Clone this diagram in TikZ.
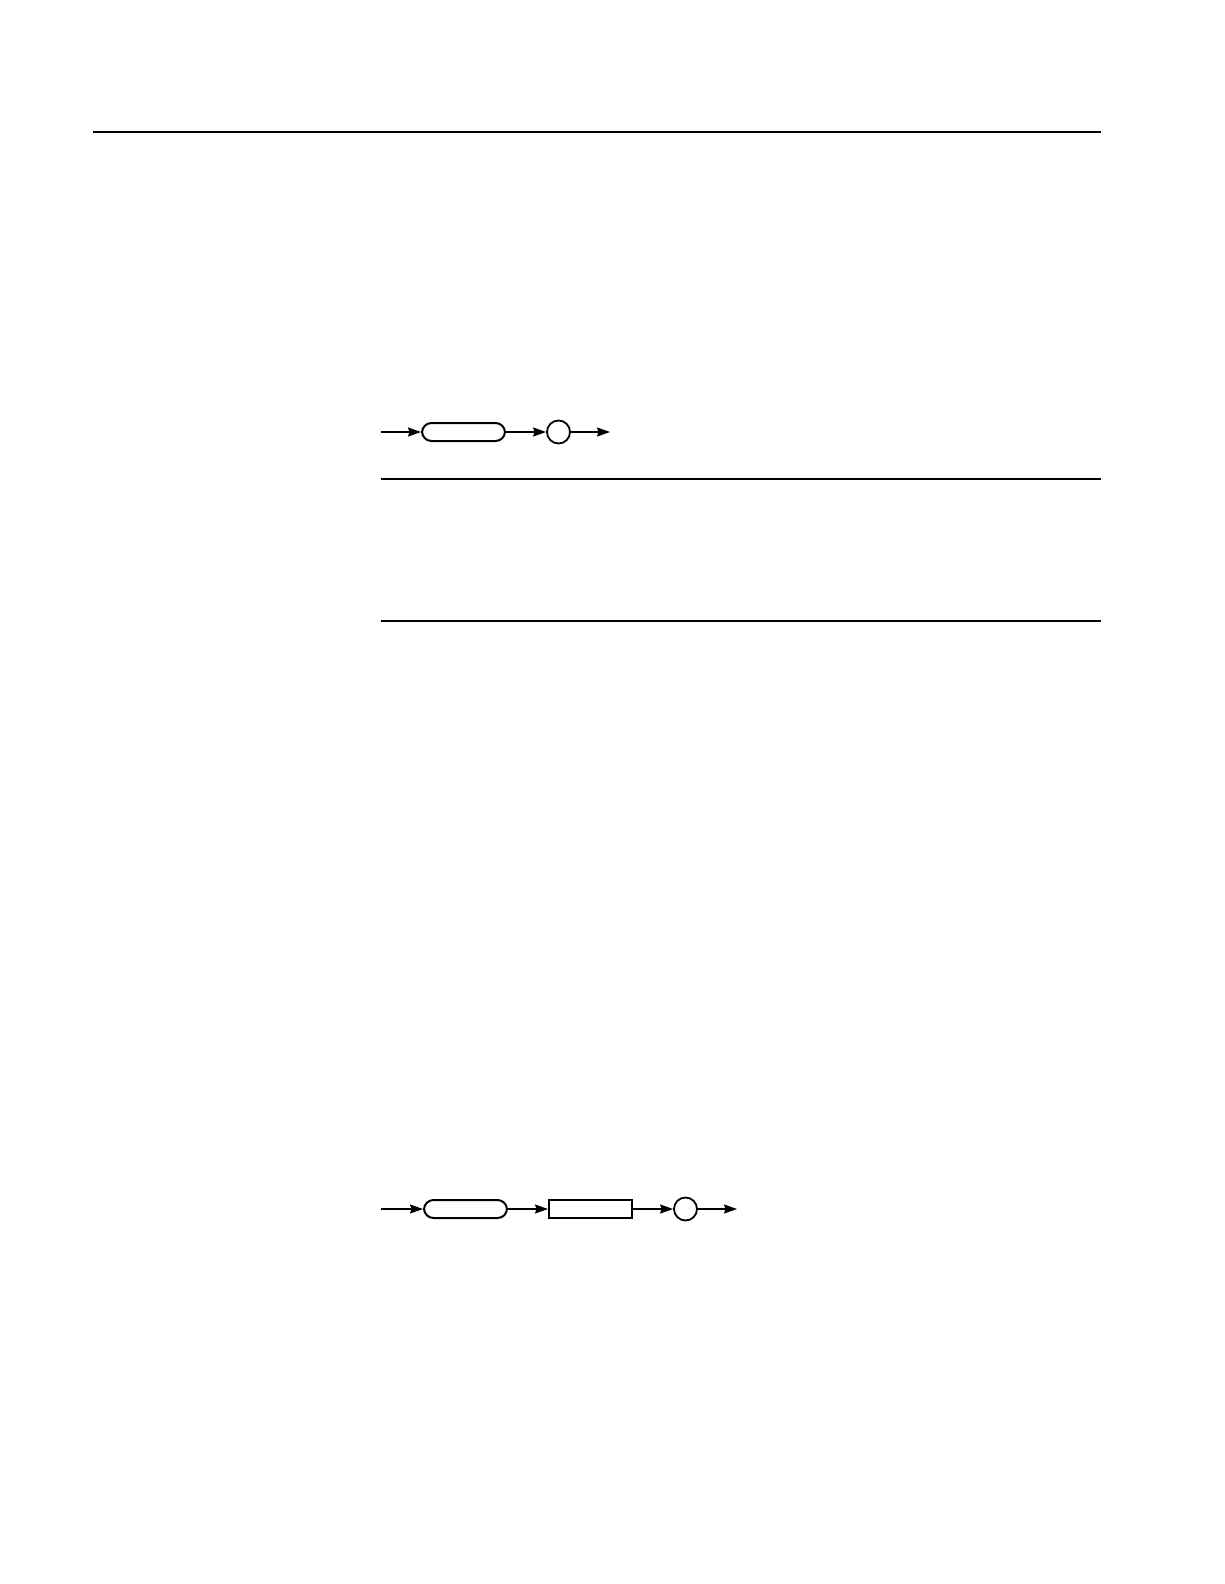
\documentclass[tikz,border=0pt]{standalone}
\usetikzlibrary{arrows.meta}
\begin{document}
\begin{tikzpicture}[x=1pt,y=-1pt,
  rule/.style={line width=1.2pt},
  conn/.style={line width=1.5pt,-{Stealth[length=13pt,width=9pt,inset=1.5pt]}},
  rbox/.style={draw,line width=2pt,rounded corners=9.5pt,minimum width=83pt,minimum height=18pt,inner sep=0pt},
  sbox/.style={draw,line width=2pt,minimum width=83pt,minimum height=18pt,inner sep=0pt},
  cnode/.style={draw,circle,line width=1.8pt,minimum size=23pt,inner sep=0pt}]
\useasboundingbox (0,0) rectangle (1224,1584);
% rules
\coordinate (t1) at (93,132);
\coordinate (t2) at (1101,132);
\coordinate (m1) at (381,479);
\coordinate (m2) at (1101,479);
\coordinate (n1) at (381,621);
\coordinate (n2) at (1101,621);
\draw[rule] (t1) -- (t2);
\draw[rule] (m1) -- (m2);
\draw[rule] (n1) -- (n2);
% diagram 1
\coordinate (s1) at (381,432);
\node[rbox] (r1) at (463.5,432) {};
\node[cnode] (c1) at (558.5,432) {};
\coordinate (e1) at (610,432);
\draw[conn] (s1) -- (r1);
\draw[conn] (r1) -- (c1);
\draw[conn] (c1) -- (e1);
% diagram 2
\coordinate (s2) at (381,1209);
\node[rbox] (r2) at (465.5,1209) {};
\node[sbox] (b2) at (590.5,1209) {};
\node[cnode] (c2) at (685.5,1209) {};
\coordinate (e2) at (737,1209);
\draw[conn] (s2) -- (r2);
\draw[conn] (r2) -- (b2);
\draw[conn] (b2) -- (c2);
\draw[conn] (c2) -- (e2);
\end{tikzpicture}
\end{document}
